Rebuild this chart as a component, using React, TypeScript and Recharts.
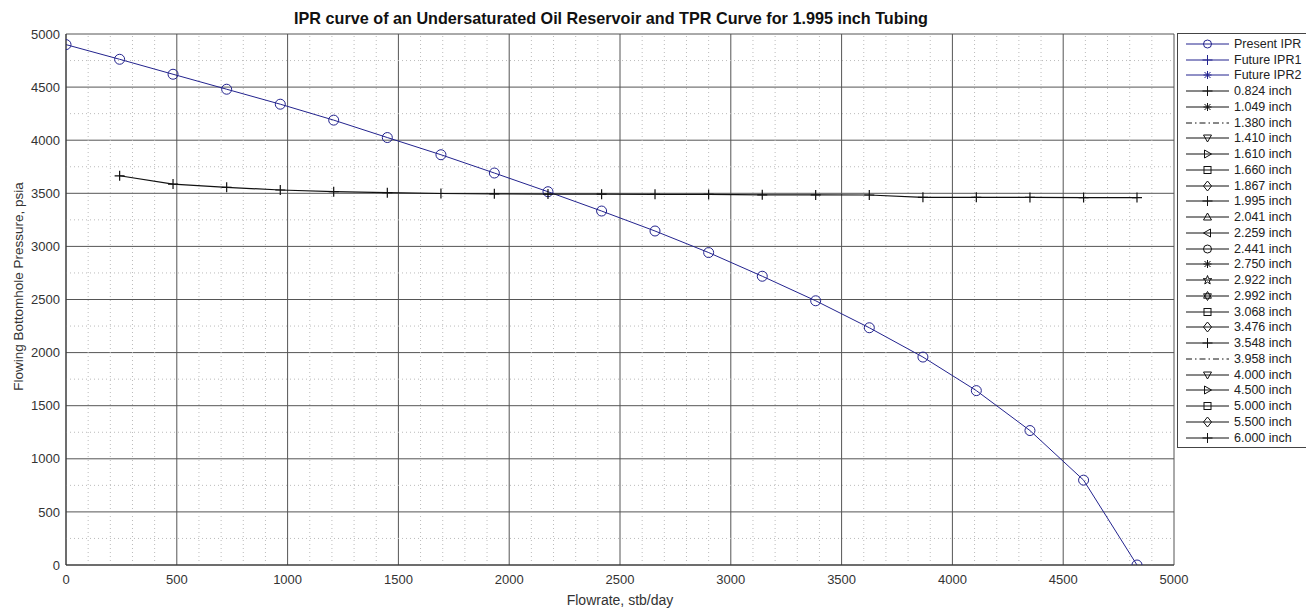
import { LineChart, Line, XAxis, YAxis, CartesianGrid, ReferenceLine, Legend, Label } from "recharts";

// flowrate, stb/day
const flowrate = [0, 242, 483, 725, 967, 1208, 1450, 1692, 1933, 2175, 2417, 2658, 2900, 3142, 3383, 3625, 3867, 4108, 4350, 4592, 4833];
// present IPR, psia
const presentIpr = [4900, 4762, 4621, 4480, 4339, 4189, 4025, 3863, 3691, 3515, 3333, 3145, 2942, 2719, 2488, 2234, 1958, 1642, 1266, 799, 0];
// TPR for 1.995 inch tubing (starts at the 2nd flowrate)
const tprFlowrate = [242, 483, 725, 967, 1208, 1450, 1692, 1933, 2175, 2417, 2658, 2900, 3142, 3383, 3625, 3867, 4108, 4350, 4592, 4833];
const tpr1995 = [3665, 3587, 3556, 3531, 3515, 3506, 3498, 3495, 3493, 3492, 3490, 3489, 3486, 3485, 3484, 3462, 3462, 3461, 3460, 3460];

const majorTicks = [0, 500, 1000, 1500, 2000, 2500, 3000, 3500, 4000, 4500, 5000];

const legendLabels = [
  "Present IPR", "Future IPR1", "Future IPR2",
  "0.824 inch", "1.049 inch", "1.380 inch", "1.410 inch", "1.610 inch", "1.660 inch", "1.867 inch",
  "1.995 inch", "2.041 inch", "2.259 inch", "2.441 inch", "2.750 inch", "2.922 inch", "2.992 inch",
  "3.068 inch", "3.476 inch", "3.548 inch", "3.958 inch", "4.000 inch", "4.500 inch", "5.000 inch",
  "5.500 inch", "6.000 inch",
];
const legendMarkers = [
  "circle", "plus", "asterisk",
  "plus", "asterisk", "dashdot", "triDown", "triRight", "square", "diamond",
  "plus", "triUp", "triLeft", "circle", "asterisk", "star", "hexagram",
  "square", "diamond", "plus", "dashdot", "triDown", "triRight", "square",
  "diamond", "plus",
];

const NAVY = "#23238e";
const INK = "#111";
const FONT = "'Liberation Sans', Arial, sans-serif";

const minorX = [];
for (let v = 100; v < 5000; v += 100) if (v % 500 !== 0) minorX.push(v);
const minorY = [];
for (let v = 250; v < 5000; v += 500) minorY.push(v);

const iprData = flowrate.map((q, i) => ({ q, p: presentIpr[i] }));
const tprData = tprFlowrate.map((q, i) => ({ q, p: tpr1995[i] }));

function PlusDot(props: any) {
  const { cx, cy, index } = props;
  if (cx == null || cy == null) return <g key={`pd-${index}`} />;
  return (
    <path
      key={`pd-${index}`}
      d={`M${cx - 5},${cy} h10 M${cx},${cy - 5} v10`}
      stroke={INK}
      strokeWidth={1.2}
      fill="none"
    />
  );
}

function markerShape(kind: string, cx: number, cy: number, color: string) {
  const s = 4;
  const common = { stroke: color, strokeWidth: 1, fill: "none" };
  switch (kind) {
    case "circle":
      return <circle cx={cx} cy={cy} r={s} {...common} />;
    case "plus":
      return <path d={`M${cx - s - 1},${cy} h${2 * s + 2} M${cx},${cy - s - 1} v${2 * s + 2}`} {...common} />;
    case "asterisk":
      return (
        <path
          d={`M${cx - s},${cy} h${2 * s} M${cx},${cy - s} v${2 * s} M${cx - 3},${cy - 3} l6,6 M${cx - 3},${cy + 3} l6,-6`}
          {...common}
        />
      );
    case "triDown":
      return <path d={`M${cx - s},${cy - 3} L${cx + s},${cy - 3} L${cx},${cy + s} Z`} {...common} />;
    case "triUp":
      return <path d={`M${cx - s},${cy + 3} L${cx + s},${cy + 3} L${cx},${cy - s} Z`} {...common} />;
    case "triRight":
      return <path d={`M${cx - 3},${cy - s} L${cx - 3},${cy + s} L${cx + s},${cy} Z`} {...common} />;
    case "triLeft":
      return <path d={`M${cx + 3},${cy - s} L${cx + 3},${cy + s} L${cx - s},${cy} Z`} {...common} />;
    case "square":
      return <rect x={cx - 3.5} y={cy - 3.5} width={7} height={7} {...common} />;
    case "diamond":
      return <path d={`M${cx},${cy - s - 1} L${cx + s},${cy} L${cx},${cy + s + 1} L${cx - s},${cy} Z`} {...common} />;
    case "star":
      return (
        <path
          d={`M${cx},${cy - 4.5} L${cx + 1.2},${cy - 1.3} L${cx + 4.3},${cy - 1.3} L${cx + 1.8},${cy + 0.7} L${cx + 2.7},${cy + 4} L${cx},${cy + 2} L${cx - 2.7},${cy + 4} L${cx - 1.8},${cy + 0.7} L${cx - 4.3},${cy - 1.3} L${cx - 1.2},${cy - 1.3} Z`}
          {...common}
        />
      );
    case "hexagram":
      return (
        <g {...common}>
          <path d={`M${cx},${cy - 4.5} L${cx + 3.9},${cy + 2.2} L${cx - 3.9},${cy + 2.2} Z`} />
          <path d={`M${cx},${cy + 4.5} L${cx + 3.9},${cy - 2.2} L${cx - 3.9},${cy - 2.2} Z`} />
        </g>
      );
    default:
      return null;
  }
}

function LegendBox() {
  return (
    <div
      style={{
        border: "1px solid #444",
        background: "#fff",
        width: 129,
        paddingTop: 2,
        paddingBottom: 1,
        fontFamily: FONT,
        fontSize: 12.5,
        color: "#222",
      }}
    >
      {legendLabels.map((label, i) => {
        const color = i < 3 ? NAVY : INK;
        const kind = legendMarkers[i];
        return (
          <div key={label} style={{ display: "flex", alignItems: "center", height: 15.75 }}>
            <svg width={54} height={14} style={{ flex: "none" }}>
              <line
                x1={8}
                y1={7}
                x2={51}
                y2={7}
                stroke={color}
                strokeWidth={1}
                strokeDasharray={kind === "dashdot" ? "6 3 1.5 3" : undefined}
              />
              {markerShape(kind, 29.5, 7, color)}
            </svg>
            <span style={{ marginLeft: 2, whiteSpace: "nowrap", lineHeight: "14px" }}>{label}</span>
          </div>
        );
      })}
    </div>
  );
}

function YTitle(props: any) {
  const vb = props.viewBox || { x: 0, y: 0, width: 0, height: 0 };
  const x = vb.x + 10;
  const y = vb.y + vb.height / 2 - 13;
  return (
    <text
      x={x}
      y={y}
      transform={`rotate(-90 ${x} ${y})`}
      textAnchor="middle"
      dominantBaseline="central"
      fill="#333"
      fontSize={13.5}
      fontFamily={FONT}
    >
      Flowing Bottomhole Pressure, psia
    </text>
  );
}

export default function App() {
  return (
    <div style={{ position: "relative", width: 1306, height: 600, background: "#fff" }}>
      <div
        style={{
          position: "absolute",
          left: 0,
          top: 1,
          width: 1206,
          textAlign: "center",
          fontFamily: FONT,
          fontWeight: "bold",
          fontSize: 16.2,
          color: "#111",
          zIndex: 2,
        }}
      >
        IPR curve of an Undersaturated Oil Reservoir and TPR Curve for 1.995 inch Tubing
      </div>
      <LineChart width={1306} height={600} margin={{ top: 26, right: 140, bottom: 0, left: 0 }}>
        <CartesianGrid stroke="#555" strokeWidth={1} />
        {minorX.map((v) => (
          <ReferenceLine key={`mx-${v}`} x={v} stroke="#bbb" strokeDasharray="1 3" />
        ))}
        {minorY.map((v) => (
          <ReferenceLine key={`my-${v}`} y={v} stroke="#bbb" strokeDasharray="1 3" />
        ))}
        <XAxis
          type="number"
          dataKey="q"
          domain={[0, 5000]}
          ticks={majorTicks}
          allowDataOverflow
          height={43}
          tickLine={false}
          tickSize={8}
          tickMargin={2}
          axisLine={{ stroke: "#333" }}
          tick={{ fill: "#333", fontSize: 13, fontFamily: FONT }}
        >
          <Label
            value="Flowrate, stb/day"
            position="insideBottom"
            offset={3}
            style={{ fill: "#333", fontSize: 14, fontFamily: FONT }}
          />
        </XAxis>
        <YAxis
          type="number"
          dataKey="p"
          domain={[0, 5000]}
          ticks={majorTicks}
          allowDataOverflow
          width={58}
          tickLine={false}
          tickSize={4}
          tickMargin={2}
          axisLine={{ stroke: "#333" }}
          tick={{ fill: "#333", fontSize: 13, fontFamily: FONT }}
        >
          <Label content={YTitle} />
        </YAxis>
        <Line
          data={iprData}
          dataKey="p"
          name="Present IPR"
          type="linear"
          stroke={NAVY}
          strokeWidth={1}
          dot={{ r: 5, stroke: NAVY, strokeWidth: 1, fill: "none" }}
          activeDot={false}
          isAnimationActive={false}
        />
        <Line
          data={tprData}
          dataKey="p"
          name="1.995 inch"
          type="linear"
          stroke={INK}
          strokeWidth={1.2}
          dot={(props: any) => <PlusDot key={`pd-${props.index}`} {...props} />}
          activeDot={false}
          isAnimationActive={false}
        />
        <Legend
          layout="vertical"
          align="center"
          verticalAlign="middle"
          content={() => <LegendBox />}
          wrapperStyle={{ position: "absolute", left: 1169, top: 25, width: 131, height: "auto" }}
        />
      </LineChart>
    </div>
  );
}
